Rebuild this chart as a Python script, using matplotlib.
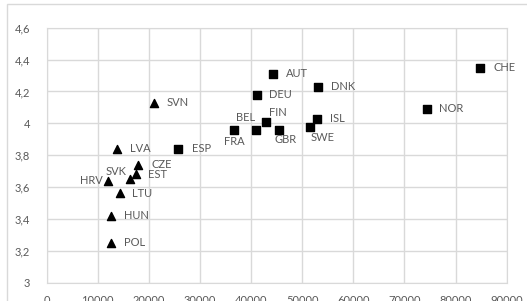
import matplotlib
matplotlib.use("Agg")
import matplotlib.pyplot as plt
from matplotlib.ticker import FuncFormatter, MultipleLocator
from matplotlib.patches import Rectangle

#### DATA ####
countries_sq = ["AUT", "DNK", "DEU", "FIN", "BEL", "FRA", "GBR", "ISL", "SWE",
                "CHE", "NOR", "ESP"]
gdp_sq = [44200, 53100, 41200, 42900, 41000, 36600, 45400, 52900, 51500,
          84800, 74500, 25600]
score_sq = [4.31, 4.23, 4.18, 4.01, 3.96, 3.96, 3.96, 4.03, 3.98,
            4.35, 4.09, 3.84]

countries_tri = ["SVN", "LVA", "CZE", "EST", "SVK", "HRV", "LTU", "HUN", "POL"]
gdp_tri = [20900, 13800, 17900, 17500, 16200, 11900, 14300, 12500, 12500]
score_tri = [4.13, 3.84, 3.74, 3.68, 3.65, 3.64, 3.56, 3.42, 3.25]

#### LABEL PLACEMENT (pixel offsets, alignment) ####
label_pos = {
    "SVN": (13, 0, "left"), "AUT": (13, 0, "left"), "DNK": (13, 0, "left"),
    "DEU": (12, 0, "left"), "FIN": (3, 9, "left"), "BEL": (-1, 12, "right"),
    "FRA": (1, -12, "center"), "GBR": (7, -10, "center"), "SWE": (1, -11, "left"),
    "ISL": (13, 0, "left"), "CHE": (13, 0, "left"), "NOR": (12, 0, "left"),
    "ESP": (14, 0, "left"), "LVA": (13, 0, "left"), "CZE": (13, 0, "left"),
    "EST": (12, 0, "left"), "SVK": (-3, 8, "right"), "HRV": (-5, 0, "right"),
    "LTU": (12, 0, "left"), "HUN": (13, 0, "left"), "POL": (13, 0, "left"),
}

GRID = "#d9d9d9"
TEXT = "#595959"

plt.rcParams['font.family'] = ['Lato', 'DejaVu Sans']

fig = plt.figure(figsize=(5.27, 3.01), dpi=100)
fig.patches.append(Rectangle((7.3 / 527, -0.1), 1.2, 1 - 4.3 / 301 + 0.1,
                             transform=fig.transFigure, fill=False,
                             edgecolor=GRID, linewidth=1.0))
ax = fig.add_axes([46.7 / 527, 1 - 282.7 / 301, 460 / 527, 255 / 301])

ax.scatter(gdp_sq, score_sq, marker="s", s=30, color="black", zorder=3)
ax.scatter(gdp_tri, score_tri, marker="^", s=34, color="black", zorder=3)

for names, xs, ys in ((countries_sq, gdp_sq, score_sq),
                      (countries_tri, gdp_tri, score_tri)):
    for n, x, y in zip(names, xs, ys):
        dx, dy, ha = label_pos[n]
        ax.annotate(n, (x, y), xytext=(dx, dy), textcoords="offset pixels",
                    ha=ha, va="center", fontsize=8, color=TEXT)

ax.set_xlim(0, 90000)
ax.set_ylim(3, 4.6)
ax.xaxis.set_major_locator(MultipleLocator(10000))
ax.yaxis.set_major_locator(MultipleLocator(0.2))
ax.yaxis.set_major_formatter(FuncFormatter(lambda v, p: f"{v:.1f}".replace(".", ",").replace(",0", "")))
ax.grid(True, color=GRID, linewidth=1.0)
ax.set_axisbelow(True)
for s in ax.spines.values():
    s.set_color(GRID)
ax.tick_params(length=0, labelsize=8, labelcolor=TEXT)
ax.tick_params(axis="y", pad=12)
ax.tick_params(axis="x", pad=9)

fig.savefig("out.png", dpi=100)
